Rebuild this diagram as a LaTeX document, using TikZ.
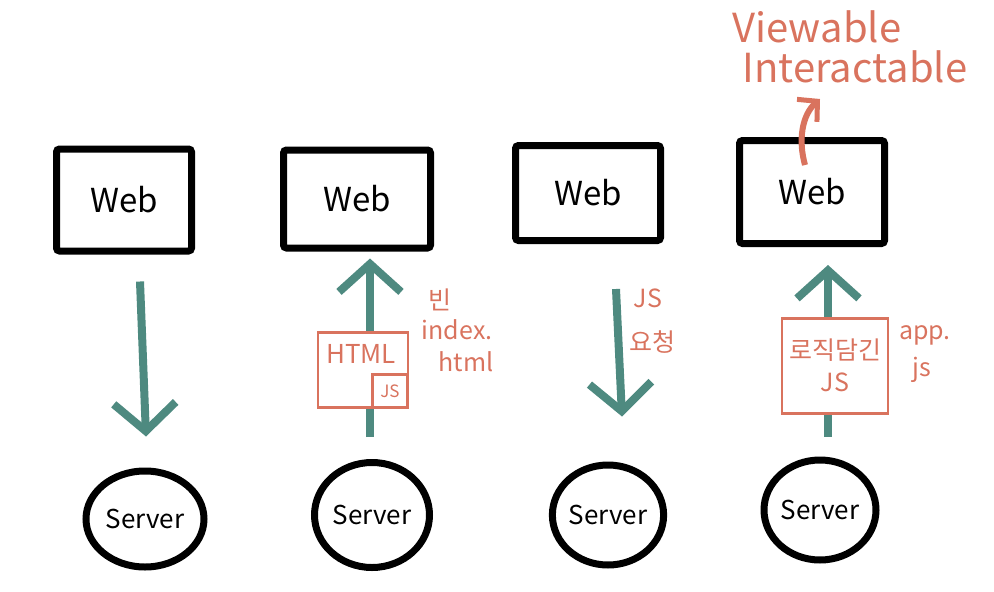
\documentclass[tikz,border=0pt]{standalone}
\usepackage{fontspec}
\setmainfont{Noto Sans CJK KR}
\usetikzlibrary{arrows.meta,shapes.geometric}
\definecolor{teal1}{HTML}{4E8A80}
\definecolor{salmon}{HTML}{D9735E}
\tikzset{
  webbox/.style={draw=black,line width=7pt,rounded corners=3pt,font=\fontsize{33}{35}\selectfont},
  server/.style={draw=black,ellipse,line width=7pt,font=\fontsize{26}{28}\selectfont,inner sep=0pt},
  flow/.style={draw=teal1,line width=8pt,-{Straight Barb[length=28pt,width=62pt,line width=8pt]}},
  salbox/.style={draw=salmon,line width=2.5pt,fill=white},
  saltext/.style={text=salmon,font=\fontsize{25}{27}\selectfont,inner sep=0pt},
  bigsal/.style={text=salmon,font=\fontsize{40}{42}\selectfont,inner sep=0pt},
}
\begin{document}
\begin{tikzpicture}[x=1pt,y=-1pt]
\useasboundingbox (0,0) rectangle (994,592);
% web boxes
\node[webbox,minimum width=135pt,minimum height=102pt] (w1) at (124,200) {Web};
\node[webbox,minimum width=147pt,minimum height=98pt] (w2) at (357,199) {Web};
\node[webbox,minimum width=145pt,minimum height=95pt] (w3) at (588,193) {Web};
\node[webbox,minimum width=145pt,minimum height=103pt] (w4) at (812,192) {Web};
% servers
\node[server,minimum width=118pt,minimum height=96pt] (s1) at (145,519) {Server};
\node[server,minimum width=115pt,minimum height=105pt] (s2) at (372,515) {Server};
\node[server,minimum width=98pt,minimum height=100pt] (s3) at (608,515) {Server};
\node[server,minimum width=112pt,minimum height=100pt] (s4) at (820,510) {Server};
% arrows
\draw[flow] ([shift={(16,27)}]w1.south) -- ([shift={(1,-31)}]s1.north);
\draw[flow] ([shift={(-2,-22)}]s2.north) -- ([shift={(13,7)}]w2.south);
\draw[flow] ([shift={(28,45)}]w3.south) -- ([shift={(14,-45)}]s3.north);
\draw[flow] ([shift={(8,-20)}]s4.north) -- ([shift={(16,18)}]w4.south);
% HTML box
\node[salbox,minimum width=90pt,minimum height=75pt] (h) at (363,370) {};
\node[saltext,font=\fontsize{26}{28}\selectfont] (htxt) at (361,354) {HTML};
\node[salbox,minimum width=35pt,minimum height=33pt] (js) at (390,391) {};
\node[saltext,font=\fontsize{17}{19}\selectfont] (jstxt) at (js) {JS};
\node[saltext] (bin) at (440,300) {빈};
\node[saltext] (idx) at (457,330) {index.};
\node[saltext] (html) at (466,362) {html};
% JS request
\node[saltext] (jsr) at (648,298) {JS};
\node[saltext] (req) at (652,342) {요청};
% logic box
\node[salbox,minimum width=106pt,minimum height=95pt] (lb) at (835,366) {};
\node[saltext] (logic) at (835,350) {로직담긴};
\node[saltext] (ljs) at (835,382) {JS};
\node[saltext] (app) at (925,335) {app.};
\node[saltext] (appjs) at (922,370) {js};
% viewable
\node[bigsal] (view) at (817,27) {Viewable};
\node[bigsal] (inter) at (855,67) {Interactable};
\draw[draw=salmon,line width=6pt,-{Straight Barb[length=14pt,width=30pt,line width=5pt]}]
  ([shift={(-7,28)}]w4.north) .. controls (798,140) and (802,115) .. ([shift={(8,-38)}]w4.north);
\end{tikzpicture}
\end{document}
